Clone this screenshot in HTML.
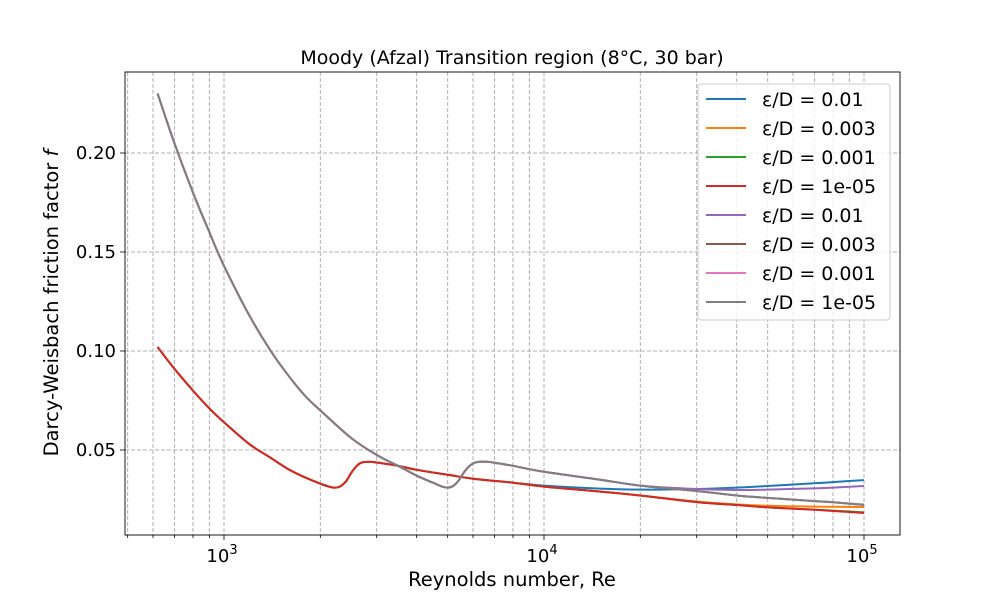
<!DOCTYPE html>
<html><head><meta charset="utf-8"><style>
body{margin:0;background:#fff;}
svg text{font-family:"DejaVu Sans","Liberation Sans",sans-serif;}
</style></head><body>
<svg id="chart" width="1000" height="600">
<rect width="1000" height="600" fill="#fff"/>
<g id="grid"></g><g id="series"></g><g id="axes"></g><g id="legend"></g>
</svg>
<script>
const reG1=[620,700,800,900,1000,1200,1400,1600,1800,2000,2100,2200,2300,2400,2500,2600,2700,2850,3000,3500,4000,5000,6000,8000,10000,15000,20000,30000,40000,50000,70000,80000,100000];
const redV=[0.102,0.091,0.080,0.071,0.064,0.053,0.046,0.040,0.036,0.033,0.0318,0.031,0.0315,0.034,0.0385,0.042,0.0437,0.0440,0.0437,0.042,0.040,0.0375,0.0355,0.0335,0.0315,0.029,0.027,0.0237,0.0222,0.021,0.0198,0.0192,0.0182];
const blueV=[0.102,0.091,0.080,0.071,0.064,0.053,0.046,0.040,0.036,0.033,0.0318,0.031,0.0315,0.034,0.0385,0.042,0.0437,0.0440,0.0437,0.042,0.040,0.0375,0.0355,0.0335,0.032,0.0305,0.030,0.0303,0.031,0.0318,0.0332,0.0338,0.0348];
const orangeV=[0.102,0.091,0.080,0.071,0.064,0.053,0.046,0.040,0.036,0.033,0.0318,0.031,0.0315,0.034,0.0385,0.042,0.0437,0.0440,0.0437,0.042,0.040,0.0375,0.0355,0.0335,0.0315,0.029,0.027,0.024,0.0225,0.0218,0.0214,0.0213,0.0212];
const greenV=[0.102,0.091,0.080,0.071,0.064,0.053,0.046,0.040,0.036,0.033,0.0318,0.031,0.0315,0.034,0.0385,0.042,0.0437,0.0440,0.0437,0.042,0.040,0.0375,0.0355,0.0335,0.0315,0.029,0.027,0.0237,0.0222,0.021,0.0199,0.0194,0.0185];
const reG2=[620,700,800,900,1000,1200,1400,1600,1800,2000,2500,3000,3500,4000,4500,4800,5000,5200,5400,5700,6000,6300,6700,7000,8000,10000,15000,20000,30000,40000,50000,70000,80000,100000];
const grayV=[0.230,0.205,0.180,0.160,0.143,0.118,0.100,0.087,0.077,0.070,0.056,0.0475,0.042,0.037,0.0335,0.0315,0.031,0.0318,0.0345,0.040,0.0432,0.0441,0.0440,0.0436,0.042,0.039,0.035,0.032,0.0293,0.027,0.0258,0.0242,0.0236,0.0222];
const purpleV=[0.230,0.205,0.180,0.160,0.143,0.118,0.100,0.087,0.077,0.070,0.056,0.0475,0.042,0.037,0.0335,0.0315,0.031,0.0318,0.0345,0.040,0.0432,0.0441,0.0440,0.0436,0.042,0.039,0.035,0.032,0.0303,0.0298,0.030,0.0306,0.031,0.0318];
const brownV=[0.230,0.205,0.180,0.160,0.143,0.118,0.100,0.087,0.077,0.070,0.056,0.0475,0.042,0.037,0.0335,0.0315,0.031,0.0318,0.0345,0.040,0.0432,0.0441,0.0440,0.0436,0.042,0.039,0.035,0.032,0.0293,0.027,0.0258,0.0242,0.0236,0.0224];
const pinkV=grayV;
const yTicks=[0.05,0.10,0.15,0.20];
const xMajor=[3,4,5];
const legendLabels=["ε/D = 0.01","ε/D = 0.003","ε/D = 0.001","ε/D = 1e-05","ε/D = 0.01","ε/D = 0.003","ε/D = 0.001","ε/D = 1e-05"];
const colors=["#1f77b4","#ff7f0e","#2ca02c","#d62728","#9467bd","#8c564b","#e377c2","#7f7f7f"];
const L=125,R=900,T=72,B=535;
const X=v=>224+(Math.log10(v)-3)*320;
const Y=v=>549-v*1980;
const NS="http://www.w3.org/2000/svg";
function mk(t,a,p){const e=document.createElementNS(NS,t);for(const k in a)e.setAttribute(k,a[k]);p.appendChild(e);return e;}
function smooth(xs,ys){let d='M'+xs[0].toFixed(1)+','+ys[0].toFixed(1);
 for(let i=0;i<xs.length-1;i++){const x0=xs[Math.max(i-1,0)],y0=ys[Math.max(i-1,0)],x1=xs[i],y1=ys[i],x2=xs[i+1],y2=ys[i+1],x3=xs[Math.min(i+2,xs.length-1)],y3=ys[Math.min(i+2,xs.length-1)];
 d+=' C'+(x1+(x2-x0)/6).toFixed(1)+','+(y1+(y2-y0)/6).toFixed(1)+' '+(x2-(x3-x1)/6).toFixed(1)+','+(y2-(y3-y1)/6).toFixed(1)+' '+x2.toFixed(1)+','+y2.toFixed(1);}
 return d;}
const grid=document.getElementById('grid'),axes=document.getElementById('axes'),ser=document.getElementById('series'),leg=document.getElementById('legend');
for(let d=2;d<=5;d++)for(let m=1;m<10;m++){const v=m*Math.pow(10,d);const x=X(v);if(x<L||x>R)continue;
 const g=mk('line',{x1:x,x2:x,y1:T,y2:B,stroke:'#b0b0b0','stroke-width':1,'stroke-dasharray':'4,2'},grid);
 
 const t=mk('line',{x1:x,x2:x,y1:B,y2:B+(m==1?5:3),stroke:'#000','stroke-width':0.8},axes);
 }
yTicks.forEach(v=>{const y=Y(v);
 const g=mk('line',{x1:L,x2:R,y1:y,y2:y,stroke:'#b0b0b0','stroke-width':1,'stroke-dasharray':'4,2'},grid);
 
 mk('line',{x1:L-5,x2:L,y1:y,y2:y,stroke:'#000','stroke-width':0.8},axes);
 const t=mk('text',{x:L-9,y:y+6,'text-anchor':'end','font-size':18},axes);t.textContent=v.toFixed(2);
 });
xMajor.forEach(p=>{const x=X(Math.pow(10,p));
 const t=mk('text',{x:x-2,y:B+27,'text-anchor':'middle','font-size':18},axes);
 
 t.textContent='10';const s=mk('tspan',{dy:-8,'font-size':13},t);s.textContent=p;});
const allData=[[reG1,blueV],[reG1,orangeV],[reG1,greenV],[reG1,redV],[reG2,purpleV],[reG2,brownV],[reG2,pinkV],[reG2,grayV]];
allData.forEach((d,i)=>{
 const p=mk('path',{d:smooth(d[0].map(X),d[1].map(Y)),fill:'none',stroke:colors[i],'stroke-width':2,'stroke-linejoin':'round'},ser);
 });
const fr=mk('rect',{x:L,y:T,width:R-L,height:B-T,fill:'none',stroke:'#000','stroke-width':0.9},axes);

let t=mk('text',{x:512,y:64,'text-anchor':'middle','font-size':19},axes);t.textContent='Moody (Afzal) Transition region (8°C, 30 bar)';

t=mk('text',{x:512,y:586,'text-anchor':'middle','font-size':19.5},axes);t.textContent='Reynolds number, Re';

t=mk('text',{x:58,y:303,'text-anchor':'middle','font-size':19.5,transform:'rotate(-90 58 303)'},axes);t.textContent='Darcy-Weisbach friction factor ';
const it=mk('tspan',{'font-style':'italic'},t);it.textContent='f';

const lb=mk('rect',{x:698,y:84,width:192,height:236,rx:3,fill:'#fff','fill-opacity':0.8,stroke:'#ccc'},leg);

legendLabels.forEach((s,i)=>{const y=99+i*29;
 const g=mk('g',{},leg);
 mk('line',{x1:706,x2:746,y1:y,y2:y,stroke:colors[i],'stroke-width':2},g);
 const tx=mk('text',{x:762,y:y+7,'font-size':19},g);tx.textContent=s;});
</script>
</body></html>
